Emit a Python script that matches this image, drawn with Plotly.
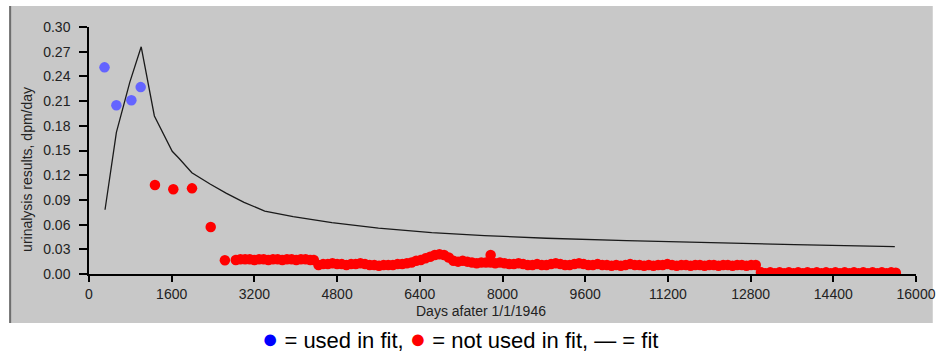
import plotly.graph_objects as go

# Measurements used in the fit (days after 1/1/1946, dpm/day)
used_days = [300, 530, 820, 1000]
used_vals = [0.251, 0.205, 0.211, 0.227]

# Measurements not used in the fit
unused_days = [
    1276, 1631, 1993, 2355, 2629,
    2840, 2930, 3020, 3110, 3200, 3290, 3380, 3470, 3560, 3650, 3740, 3830, 3920,
    4010, 4100, 4190, 4280, 4350,
    4440, 4530, 4620, 4710, 4800, 4890, 4980, 5070, 5160, 5250, 5340, 5430, 5520,
    5610, 5700, 5790, 5880, 5970, 6060,
    6150, 6240, 6330, 6420, 6510, 6600, 6690, 6780, 6870, 6960, 7050, 7140, 7230,
    7320, 7410, 7500, 7590, 7680, 7770, 7771, 7860, 7950,
    8040, 8130, 8220, 8310, 8400, 8490, 8580, 8670, 8760, 8850, 8940, 9030, 9120,
    9210, 9300, 9390, 9480, 9570, 9660, 9750, 9840, 9930, 10020, 10110, 10200,
    10290, 10380, 10470, 10560, 10650, 10740, 10830, 10920, 11010, 11100, 11190,
    11280, 11370, 11460, 11550, 11640, 11730, 11820, 11910, 12000, 12090, 12180,
    12270, 12360, 12450, 12540, 12630, 12720, 12810, 12900,
    13000, 13090, 13180, 13270, 13360, 13450, 13540, 13630, 13720, 13810, 13900,
    13990, 14080, 14170, 14260, 14350, 14440, 14530, 14620, 14710, 14800, 14890,
    14980, 15070, 15160, 15250, 15340, 15430, 15520, 15610,
]
unused_vals = [
    0.108, 0.103, 0.104, 0.057, 0.0166,
    0.017, 0.018, 0.018, 0.018, 0.017, 0.018, 0.018, 0.017, 0.018, 0.018, 0.017, 0.018, 0.018,
    0.017, 0.018, 0.018, 0.017, 0.017,
    0.011, 0.012, 0.012, 0.013, 0.012, 0.012, 0.011, 0.012, 0.012, 0.013, 0.012, 0.011, 0.011,
    0.010, 0.011, 0.011, 0.011, 0.012, 0.012,
    0.013, 0.014, 0.016, 0.017, 0.019, 0.021, 0.023, 0.024, 0.023, 0.020, 0.016, 0.015, 0.016,
    0.015, 0.014, 0.013, 0.014, 0.014, 0.014, 0.023, 0.013, 0.014,
    0.013, 0.012, 0.012, 0.013, 0.012, 0.011, 0.011, 0.012, 0.011, 0.011, 0.012, 0.013, 0.012,
    0.011, 0.011, 0.012, 0.013, 0.012, 0.011, 0.011, 0.012, 0.011, 0.011, 0.010, 0.011,
    0.010, 0.011, 0.012, 0.011, 0.011, 0.010, 0.011, 0.010, 0.011, 0.011, 0.012,
    0.011, 0.010, 0.011, 0.011, 0.010, 0.011, 0.011, 0.010, 0.011, 0.011, 0.010,
    0.011, 0.011, 0.010, 0.011, 0.011, 0.010, 0.011, 0.011,
    0.002, 0.001, 0.002, 0.001, 0.002, 0.001, 0.002, 0.001, 0.002, 0.001, 0.002,
    0.001, 0.002, 0.001, 0.002, 0.001, 0.002, 0.001, 0.002, 0.001, 0.002, 0.001,
    0.002, 0.001, 0.002, 0.001, 0.002, 0.001, 0.002, 0.0015,
]

# Fitted excretion curve
fit_days = [310, 530, 790, 1010, 1265, 1610, 1740, 1990, 2350, 2660, 3000, 3400,
            3950, 4700, 5600, 6630, 7650, 8850, 10400, 11900, 13650, 15590]
fit_vals = [0.078, 0.172, 0.233, 0.276, 0.192, 0.149, 0.1406, 0.123, 0.109, 0.098,
            0.087, 0.0765, 0.0696, 0.0623, 0.0557, 0.0502, 0.0466, 0.0434, 0.0405,
            0.038, 0.0356, 0.0332]

x_ticks = [0, 1600, 3200, 4800, 6400, 8000, 9600, 11200, 12800, 14400, 16000]
x_tick_text = ["0", "1600", "3200", "4800", "6400", "8000", "9600", "11200",
               "12800", "14400", "16000"]
y_ticks = [0.00, 0.03, 0.06, 0.09, 0.12, 0.15, 0.18, 0.21, 0.24, 0.27, 0.30]

PANEL = "#c8c8c8"
FONT = "Liberation Sans, Arial, sans-serif"

fig = go.Figure()
fig.add_trace(go.Scatter(x=fit_days, y=fit_vals, mode="lines",
                         line=dict(color="#1a1a1a", width=1.3), showlegend=False))
fig.add_trace(go.Scatter(x=unused_days, y=unused_vals, mode="markers",
                         marker=dict(color="#ff0000", size=10.5, line=dict(width=0)),
                         showlegend=False))
fig.add_trace(go.Scatter(x=used_days, y=used_vals, mode="markers",
                         marker=dict(color="#6464ff", size=10.5, line=dict(width=0)),
                         showlegend=False))

# plot area in pixels: x 89..928, y 27..274
L, R, T, B = 89, 928, 27, 274
W, H = R - L, B - T


def px(xp):
    return (xp - L) / W


def py(yp):
    return (B - yp) / H


fig.add_shape(type="rect", xref="paper", yref="paper", layer="below",
              x0=px(8), x1=px(945), y0=py(323), y1=py(6),
              fillcolor=PANEL, line=dict(width=0))
fig.add_shape(type="line", xref="paper", yref="paper", layer="below",
              x0=px(9), x1=px(9), y0=py(323), y1=py(6),
              line=dict(color="#6e6e6e", width=2))

fig.add_annotation(xref="paper", yref="paper", x=px(26), y=py(169),
                   xanchor="center", yanchor="middle",
                   text="urinalysis results, dpm/day", textangle=-90,
                   showarrow=False, font=dict(family=FONT, size=14, color="#222"))
fig.add_annotation(xref="paper", yref="paper", x=px(487), y=py(311),
                   xanchor="center", yanchor="middle",
                   text="Days afater 1/1/1946",
                   showarrow=False, font=dict(family=FONT, size=14, color="#222"))
fig.add_annotation(
    xref="paper", yref="paper", x=px(465.5), y=py(339),
    xanchor="center", yanchor="middle",
    text=('<span style="color:#0000ff;font-size:27px">●</span> = used in fit, '
          '<span style="color:#ff0000;font-size:27px">●</span> = not used in fit, — = fit'),
    showarrow=False, font=dict(family=FONT, size=22, color="#000"))

axis_common = dict(showline=True, linecolor="#000", linewidth=1.5,
                   ticks="outside", tickcolor="#000", tickwidth=1.5,
                   showgrid=False, zeroline=False,
                   tickfont=dict(family=FONT, size=14, color="#222"))

fig.update_xaxes(range=[0, 16000], tickvals=x_ticks, ticktext=x_tick_text, ticklen=6,
                 ticklabelstandoff=0, **axis_common)
fig.update_yaxes(range=[0, 0.30], tickvals=y_ticks, tickformat=".2f", ticklen=8,
                 ticklabelstandoff=6, **axis_common)

fig.update_layout(width=948, height=353,
                  margin=dict(l=L, r=948 - R, t=T, b=353 - B),
                  paper_bgcolor="#ffffff", plot_bgcolor=PANEL,
                  showlegend=False)

fig.write_html("out.html")
